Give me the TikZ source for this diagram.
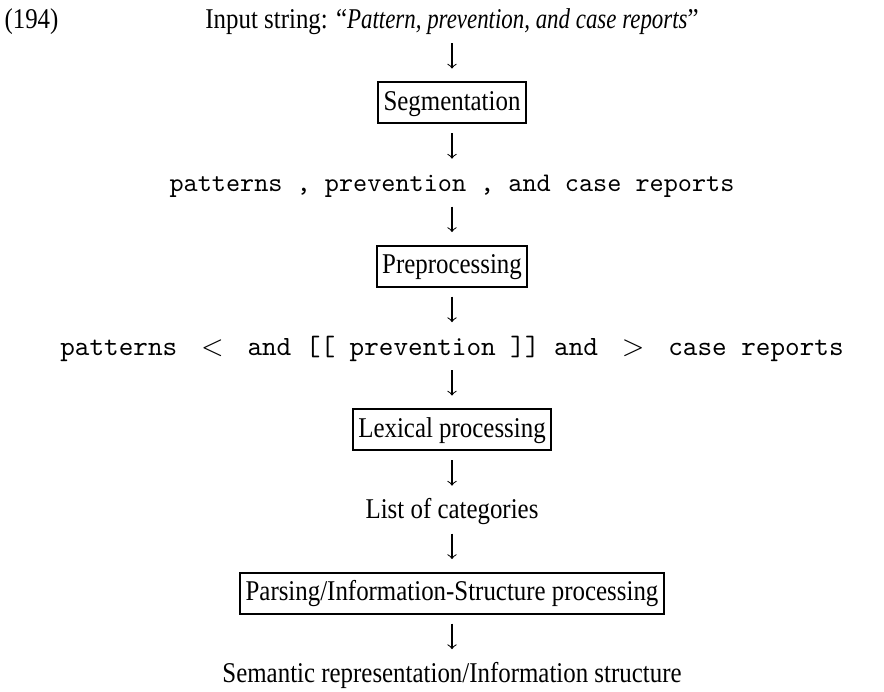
\documentclass[tikz,border=0pt]{standalone}
\usepackage{fontspec}
\setmainfont{Liberation Serif}[FakeStretch=0.87,ItalicFeatures={FakeStretch=0.8}]
\begin{document}
\begin{tikzpicture}[x=0.3774pt,y=-0.3774pt,
  txt/.style={inner sep=0pt,text height=7.5pt,text depth=2pt,font=\fontsize{10.8pt}{13pt}\selectfont},
  boxed/.style={draw,line width=0.7pt,inner xsep=2pt,inner ysep=3pt,text height=7.5pt,text depth=2pt,font=\fontsize{10.8pt}{13pt}\selectfont},
  ttline/.style={inner sep=0pt,text height=7.5pt,text depth=2pt,font=\fontsize{10.15pt}{12pt}\ttfamily},
  arr/.style={->,line width=0.4pt,shorten <=3.4pt,shorten >=4.8pt}]
\useasboundingbox (0,0) rectangle (884,691);
\def\cx{452}
\node[txt,anchor=west] (num) at (4,21) {(194)};
\node[txt] (in) at (\cx,21) {Input string: “\textit{Pattern, prevention, and case reports}”};
\node[boxed] (seg) at (\cx,102.75) {Segmentation};
\node[ttline] (t1) at (\cx,184.5) {patterns , prevention , and case reports};
\node[ttline,font=\fontsize{10.5pt}{12pt}\ttfamily] (t2) at (\cx,348) {patterns\hspace{9pt}$<$\hspace{9pt}and [[ prevention ]] and\hspace{9pt}$>$\hspace{9pt}case reports};
\node[boxed] (pre) at (\cx,266.25) {Preprocessing};
\node[boxed] (lex) at (\cx,429.75) {Lexical processing};
\node[txt] (cat) at (\cx,511.5) {List of categories};
\node[boxed] (par) at (\cx,593.25) {Parsing/Information-Structure processing};
\node[txt] (sem) at (\cx,675) {Semantic representation/Information structure};
\draw[arr] (in) -- (seg);
\draw[arr] (seg) -- (t1);
\draw[arr] (t1) -- (pre);
\draw[arr] (pre) -- (t2);
\draw[arr] (t2) -- (lex);
\draw[arr] (lex) -- (cat);
\draw[arr] (cat) -- (par);
\draw[arr] (par) -- (sem);
\end{tikzpicture}
\end{document}
